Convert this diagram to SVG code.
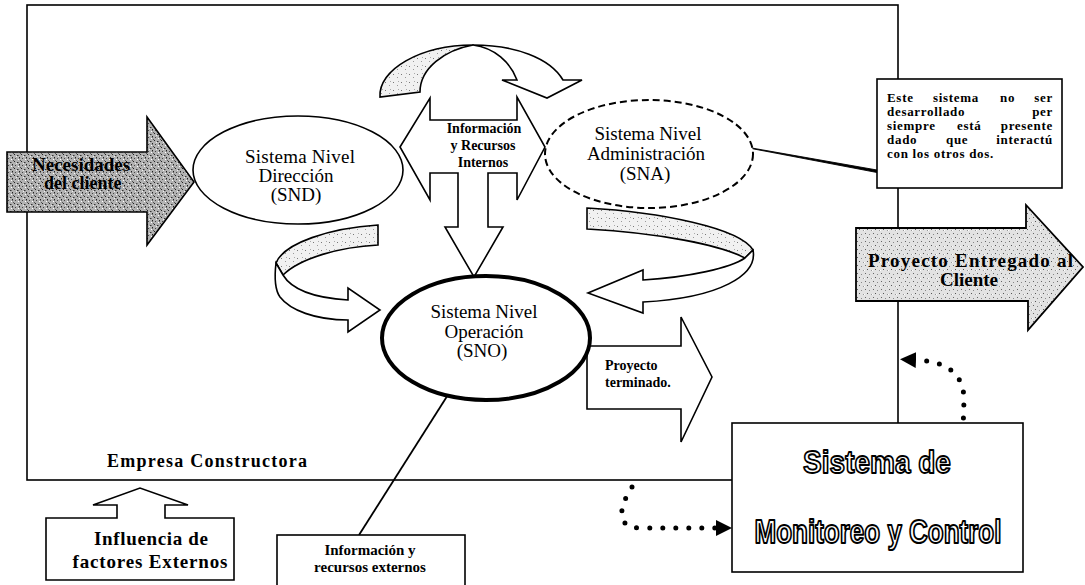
<svg xmlns="http://www.w3.org/2000/svg" width="1085" height="585" viewBox="0 0 1085 585">
<style>
.ln{fill:#fff;stroke:#000;stroke-width:1.6;stroke-linejoin:miter}
.sv{font-family:"Liberation Serif","Times New Roman",serif;fill:#000}
.b{font-weight:bold}
.sys{font-size:19px;text-anchor:middle}
.mid{text-anchor:middle}
.dots{fill:none;stroke:#000;stroke-width:5;stroke-linecap:round;stroke-dasharray:0 13}
.outl{font-family:"Liberation Sans","Arial",sans-serif;font-weight:bold;fill:#fff;stroke:#000;stroke-width:1.6;stroke-linejoin:round;text-anchor:middle}
</style>
<defs>
<pattern id="speckDark" width="7" height="7" patternUnits="userSpaceOnUse">
<rect width="7" height="7" fill="#b2b2b2"/>
<rect x="0" y="0" width="1" height="1" fill="#222"/>
<rect x="3" y="1" width="1.5" height="1" fill="#333"/>
<rect x="5" y="3" width="1" height="1.5" fill="#222"/>
<rect x="1" y="4" width="1" height="1" fill="#444"/>
<rect x="4" y="5" width="1" height="1" fill="#fff"/>
<rect x="2" y="2" width="1" height="1" fill="#eee"/>
<rect x="6" y="6" width="1" height="1" fill="#555"/>
</pattern>
<pattern id="speckLight" width="8" height="8" patternUnits="userSpaceOnUse">
<rect width="8" height="8" fill="#e2e2e2"/>
<rect x="1" y="1" width="1" height="1" fill="#666"/>
<rect x="5" y="2" width="1" height="1" fill="#888"/>
<rect x="3" y="5" width="1" height="1" fill="#555"/>
<rect x="7" y="6" width="1" height="1" fill="#999"/>
<rect x="0" y="6" width="1" height="1" fill="#fff"/>
</pattern>
<pattern id="speckFaint" width="8" height="8" patternUnits="userSpaceOnUse">
<rect width="8" height="8" fill="#f1f1f1"/>
<rect x="1" y="2" width="1" height="1" fill="#777"/>
<rect x="5" y="5" width="1" height="1" fill="#999"/>
<rect x="6" y="1" width="1" height="1" fill="#aaa"/>
</pattern>
<marker id="solidHead" markerUnits="userSpaceOnUse" markerWidth="15" markerHeight="13" viewBox="0 0 15 13" refX="15" refY="6.5" orient="auto">
<path d="M0,0 L15,6.5 L0,13 Z" fill="#000"/>
</marker>
<marker id="dotHead" markerUnits="userSpaceOnUse" markerWidth="16" markerHeight="16" viewBox="0 0 16 16" refX="0" refY="8" orient="auto">
<path d="M0,0 L16,8 L0,16 Z" fill="#000"/>
</marker>
</defs>
<rect width="1085" height="585" fill="#fff"/>

<g id="empresa-constructora">
<rect x="27" y="5" width="871" height="475" fill="none" stroke="#000" stroke-width="1.6"/>
<text class="sv b" x="107" y="467" font-size="18" textLength="200">Empresa Constructora</text>
</g>

<g id="connectors">
<path d="M380,97 C378,70 420,45 473,45 C445,50 420,68 420,92 Z" fill="url(#speckFaint)" stroke="#000" stroke-width="1.6"/>
<path d="M473,45 C515,45 550,58 563,80 L582,80 L547,98 L502,80 L517,80 C510,62 495,48 473,45 Z" class="ln"/>
<path d="M378,225 C330,228 284,243 276,263 L283,275 C300,258 340,247 378,245 Z" fill="url(#speckFaint)" stroke="#000" stroke-width="1.6"/>
<path d="M276,263 C274,280 275,290 280,297 C290,310 315,320 348,320 L348,332 L380,310 L348,288 L348,300 C315,298 292,290 283,275 Z" class="ln"/>
<path d="M587,208 C660,212 740,228 753,250 L745,258 C720,245 660,233 587,229 Z" fill="url(#speckFaint)" stroke="#000" stroke-width="1.6"/>
<path d="M753,250 C758,275 720,298 643,302 L643,313 L588,293 L643,270 L643,280 C690,277 730,268 745,258 Z" class="ln"/>
<line x1="359" y1="535" x2="465" y2="368" stroke="#000" stroke-width="1.8" marker-end="url(#solidHead)"/>
<polygon points="712,141 877,170 877,172.5" fill="#000" stroke="#000" stroke-width="0.9"/>
<path class="dots" d="M632,487 C620,505 614,528 640,528 L716,528" marker-end="url(#dotHead)"/>
<path class="dots" d="M963,431 L964,400 Q964,362 916,360" marker-end="url(#dotHead)"/>
</g>

<g id="necesidades-cliente">
<path d="M7,152 L147,152 L147,117 L194,182 L147,245 L147,212 L7,212 Z" fill="url(#speckDark)" stroke="#000" stroke-width="1.6"/>
<text class="sv b" x="32" y="171" font-size="19">Necesidades</text>
<text class="sv b" x="44" y="189" font-size="18">del cliente</text>
</g>

<g id="snd">
<ellipse cx="298" cy="170" rx="105" ry="54" class="ln"/>
<text class="sv sys" x="300" y="163" textLength="110">Sistema Nivel</text>
<text class="sv sys" x="296" y="182">Dirección</text>
<text class="sv sys" x="296" y="201">(SND)</text>
</g>

<g id="info-recursos-internos">
<path d="M400,147 L430,98 L430,120 L517,120 L517,97 L545,147 L517,200 L517,173 L488,173 L488,227 L503,227 L474,277 L445,227 L458,227 L458,173 L430,173 L430,200 Z" class="ln"/>
<text class="sv b mid" x="484" y="133" font-size="14">Información</text>
<text class="sv b mid" x="483" y="150" font-size="14">y Recursos</text>
<text class="sv b mid" x="483" y="167" font-size="14">Internos</text>
</g>

<g id="sna">
<ellipse cx="649" cy="154" rx="104" ry="54" fill="#fff" stroke="#000" stroke-width="2" stroke-dasharray="7 4"/>
<text class="sv sys" x="648" y="140">Sistema Nivel</text>
<text class="sv sys" x="646" y="160">Administración</text>
<text class="sv sys" x="645" y="180">(SNA)</text>
</g>

<g id="proyecto-terminado">
<path d="M587,346 L681,346 L681,317 L712,377 L681,442 L681,409 L587,409 Z" class="ln"/>
<text class="sv b" x="605" y="370" font-size="14">Proyecto</text>
<text class="sv b" x="605" y="387" font-size="14">terminado.</text>
</g>

<g id="sno">
<ellipse cx="486" cy="338" rx="104" ry="62" fill="#fff" stroke="#000" stroke-width="4"/>
<text class="sv sys" x="484" y="318">Sistema Nivel</text>
<text class="sv sys" x="484" y="338">Operación</text>
<text class="sv sys" x="482" y="357">(SNO)</text>
</g>

<g id="nota-sna">
<rect x="877" y="79" width="185" height="109" class="ln"/>
<g class="sv b" font-size="13" letter-spacing="0.7">
<text x="887" y="102">Este</text>
<text x="933" y="102">sistema</text>
<text x="1000" y="102">no</text>
<text x="1053" y="102" text-anchor="end">ser</text>
<text x="887" y="116">desarrollado</text>
<text x="1053" y="116" text-anchor="end">per</text>
<text x="887" y="130">siempre</text>
<text x="957" y="130">está</text>
<text x="1053" y="130" text-anchor="end">presente</text>
<text x="887" y="144">dado</text>
<text x="946" y="144">que</text>
<text x="1053" y="144" text-anchor="end">interactú</text>
<text x="887" y="158">con los otros dos.</text>
</g>
</g>

<g id="proyecto-entregado">
<path d="M856,228 L1026,228 L1026,205 L1083,267 L1028,330 L1028,301 L856,301 Z" fill="url(#speckLight)" stroke="#000" stroke-width="1.8"/>
<text class="sv b" x="868" y="267" font-size="19" textLength="205">Proyecto Entregado al</text>
<text class="sv b" x="940" y="286" font-size="19">Cliente</text>
</g>

<g id="monitoreo-control" opacity="0.999">
<rect x="732" y="423" width="291" height="149" class="ln"/>
<text class="outl" transform="translate(877,473) scale(1,1.15)" x="0" y="0" font-size="28">Sistema de</text>
<text class="outl" transform="translate(878,543) scale(1,1.25)" x="0" y="0" font-size="26">Monitoreo y Control</text>
</g>

<g id="influencia-factores">
<path d="M46,518 L117,518 L117,505 L93,505 L140,488 L188,505 L165,505 L165,518 L234,518 L234,580 L46,580 Z" class="ln"/>
<text class="sv b mid" x="151" y="545" font-size="19" textLength="114">Influencia de</text>
<text class="sv b mid" x="150" y="568" font-size="19" textLength="155">factores Externos</text>
</g>

<g id="info-recursos-externos">
<rect x="277" y="535" width="188" height="60" class="ln"/>
<text class="sv b mid" x="370" y="555" font-size="15">Información y</text>
<text class="sv b mid" x="370" y="572" font-size="15">recursos externos</text>
</g>
</svg>
